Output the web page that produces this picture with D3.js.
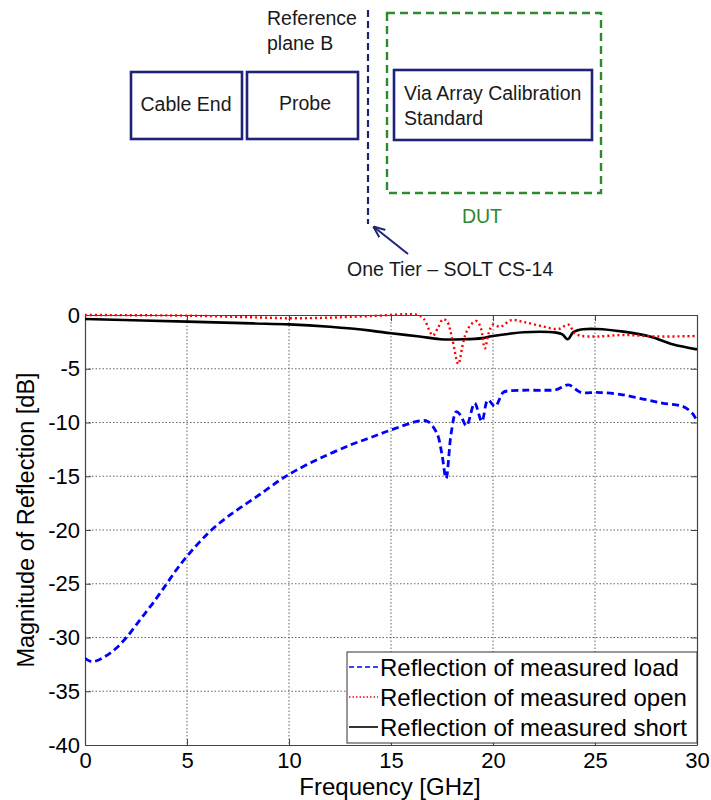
<!DOCTYPE html>
<html>
<head>
<meta charset="utf-8">
<script src="https://cdn.jsdelivr.net/npm/d3@7"></script>
<style>
  html, body { margin: 0; padding: 0; background: #fff; }
  svg { display: block; font-family: Arial, "Liberation Sans", sans-serif; }
</style>
</head>
<body>
<svg id="fig" width="711" height="800"></svg>
<script>
// Measured reflection of the calibration standards (dB vs GHz)
const loadFreq = [0, 0.35, 1.0, 1.5, 2.05, 2.7, 3.35, 3.95, 4.5, 5.0, 5.6, 6.2, 6.9, 7.6, 8.6, 9.6, 10.3, 11.5, 13, 14, 15, 16.4, 16.8, 17.25, 17.5, 17.7, 17.95, 18.2, 18.4, 18.7, 19.1, 19.45, 19.75, 20.1, 20.5, 20.8, 21.5, 22.5, 23.1, 23.7, 24.3, 25.1, 26.1, 27.2, 28.3, 29.3, 29.75, 30];
const loadDb   = [-31.94, -32.25, -31.75, -31.05, -29.95, -28.35, -26.75, -25.15, -23.65, -22.45, -21.15, -20.0, -18.9, -17.95, -16.65, -15.3, -14.5, -13.35, -12.1, -11.4, -10.7, -9.85, -9.9, -11.0, -13.0, -15.2, -11.0, -9.0, -9.3, -10.3, -8.2, -9.9, -7.9, -8.5, -7.2, -7.05, -7.0, -7.0, -6.95, -6.5, -7.2, -7.2, -7.35, -7.75, -8.2, -8.5, -9.1, -9.85];

const openFreq = [0, 5, 8, 10, 12, 14, 16.3, 16.6, 17.05, 17.3, 17.55, 17.75, 18.0, 18.3, 18.5, 18.65, 18.9, 19.2, 19.4, 19.6, 19.8, 20.0, 20.35, 20.9, 21.5, 22.3, 23.2, 23.7, 24.0, 24.3, 25.1, 26.4, 28.0, 30];
const openDb   = [0, -0.06, -0.2, -0.3, -0.25, -0.1, 0, -0.35, -1.9, -1.2, -0.4, -0.6, -2.2, -4.55, -2.9, -1.8, -0.93, -0.56, -1.2, -3.1, -1.6, -0.9, -1.1, -0.47, -0.65, -1.0, -1.3, -0.9, -1.7, -1.93, -2.0, -1.86, -2.0, -1.95];

const shortFreq = [0, 5, 8.2, 10, 12, 14, 15, 16.4, 17.4, 18.5, 19.5, 19.85, 20.8, 21.5, 23.1, 23.4, 23.66, 23.94, 24.4, 25.1, 26.4, 27.7, 28.8, 30];
const shortDb   = [-0.37, -0.62, -0.78, -0.87, -1.1, -1.45, -1.7, -2.0, -2.25, -2.26, -2.15, -2.0, -1.75, -1.6, -1.64, -1.8, -2.26, -1.6, -1.33, -1.3, -1.55, -2.0, -2.73, -3.2];

const xTicks = [0, 5, 10, 15, 20, 25, 30];
const yTicks = [0, -5, -10, -15, -20, -25, -30, -35, -40];

const seriesNames = ["Reflection of measured load", "Reflection of measured open", "Reflection of measured short"];

const svg = d3.select("#fig");

// ---------- Measurement setup sketch ----------
const navy = "#1f2378";
const green = "#2d8a2d";
const ink = "#1a1a1a";
const sk = svg.append("g").attr("font-size", 19.5).attr("fill", ink);

sk.append("rect").attr("x", 131).attr("y", 72).attr("width", 111).attr("height", 67)
  .attr("fill", "none").attr("stroke", navy).attr("stroke-width", 2.6);
sk.append("rect").attr("x", 247).attr("y", 72).attr("width", 111).attr("height", 67)
  .attr("fill", "none").attr("stroke", navy).attr("stroke-width", 2.6);
sk.append("rect").attr("x", 394).attr("y", 70).attr("width", 198).attr("height", 70)
  .attr("fill", "none").attr("stroke", navy).attr("stroke-width", 2.6);
sk.append("rect").attr("x", 387).attr("y", 13).attr("width", 214).attr("height", 180)
  .attr("fill", "none").attr("stroke", green).attr("stroke-width", 2.4)
  .attr("stroke-dasharray", "8,5");
sk.append("line").attr("x1", 368).attr("y1", 10).attr("x2", 368).attr("y2", 224)
  .attr("stroke", navy).attr("stroke-width", 2.2).attr("stroke-dasharray", "7,4");

svg.append("defs").append("marker")
  .attr("id", "tip").attr("viewBox", "0 0 10 10").attr("refX", 9).attr("refY", 5)
  .attr("markerWidth", 6).attr("markerHeight", 6).attr("orient", "auto")
  .append("path").attr("d", "M0,1 L10,5 L0,9").attr("fill", "none")
  .attr("stroke", navy).attr("stroke-width", 1.6);
sk.append("line").attr("x1", 408).attr("y1", 254).attr("x2", 374).attr("y2", 227)
  .attr("stroke", navy).attr("stroke-width", 2).attr("marker-end", "url(#tip)");

sk.append("text").attr("x", 267).attr("y", 25).text("Reference");
sk.append("text").attr("x", 267).attr("y", 50).text("plane B");
sk.append("text").attr("x", 186).attr("y", 111).attr("text-anchor", "middle").text("Cable End");
sk.append("text").attr("x", 305).attr("y", 110).attr("text-anchor", "middle").text("Probe");
sk.append("text").attr("x", 404).attr("y", 100).text("Via Array Calibration");
sk.append("text").attr("x", 404).attr("y", 125).text("Standard");
sk.append("text").attr("x", 482).attr("y", 223).attr("text-anchor", "middle")
  .attr("fill", green).text("DUT");
sk.append("text").attr("x", 347).attr("y", 276).text("One Tier \u2013 SOLT CS-14");

// ---------- Reflection plot ----------
const plot = { left: 85, right: 697, top: 315, bottom: 745 };
const x = d3.scaleLinear().domain([0, 30]).range([plot.left, plot.right]);
const y = d3.scaleLinear().domain([-40, 0]).range([plot.bottom, plot.top]);

const g = svg.append("g");

// dotted grid
g.append("g").selectAll("line").data(xTicks.filter(t => t > 0 && t < 30)).join("line")
  .attr("x1", d => x(d)).attr("x2", d => x(d))
  .attr("y1", plot.top).attr("y2", plot.bottom)
  .attr("stroke", "#666").attr("stroke-width", 1).attr("stroke-dasharray", "1.5,2");
g.append("g").selectAll("line").data(yTicks.filter(t => t < 0 && t > -40)).join("line")
  .attr("x1", plot.left).attr("x2", plot.right)
  .attr("y1", d => y(d)).attr("y2", d => y(d))
  .attr("stroke", "#666").attr("stroke-width", 1).attr("stroke-dasharray", "1.5,2");

// axes with inward ticks, mirrored on top and right
const axFont = 22;
const xAxis = g.append("g").attr("transform", `translate(0,${plot.bottom})`)
  .call(d3.axisBottom(x).tickValues(xTicks).tickSizeInner(-6).tickSizeOuter(0).tickPadding(7));
const yAxis = g.append("g").attr("transform", `translate(${plot.left},0)`)
  .call(d3.axisLeft(y).tickValues(yTicks).tickSizeInner(-6).tickSizeOuter(0).tickPadding(5)
    .tickFormat(d => d === 0 ? "0" : "-" + Math.abs(d)));
g.append("g").attr("transform", `translate(0,${plot.top})`)
  .call(d3.axisTop(x).tickValues(xTicks).tickSizeInner(-6).tickSizeOuter(0).tickFormat(""));
g.append("g").attr("transform", `translate(${plot.right},0)`)
  .call(d3.axisRight(y).tickValues(yTicks).tickSizeInner(-6).tickSizeOuter(0).tickFormat(""));

g.selectAll(".domain").attr("stroke", "#444").attr("stroke-width", 1.2);
g.selectAll(".tick line").attr("stroke", "#444");
xAxis.selectAll("text").attr("font-size", axFont).attr("fill", "#000")
  .attr("font-family", "Arial, 'Liberation Sans', sans-serif");
yAxis.selectAll("text").attr("font-size", axFont).attr("fill", "#000")
  .attr("font-family", "Arial, 'Liberation Sans', sans-serif");

// curves
const line = d3.line().x(d => x(d[0])).y(d => y(d[1])).curve(d3.curveCatmullRom.alpha(0.5));
const zip = (a, b) => a.map((v, i) => [v, b[i]]);

const styles = [
  { color: "#0000ff", width: 2.8, dash: "7,4" },
  { color: "#ff0000", width: 2.4, dash: "2,3" },
  { color: "#000000", width: 2.6, dash: null }
];
const curves = [zip(loadFreq, loadDb), zip(openFreq, openDb), zip(shortFreq, shortDb)];

svg.append("clipPath").attr("id", "plotclip").append("rect")
  .attr("x", plot.left).attr("y", plot.top - 2)
  .attr("width", plot.right - plot.left + 1).attr("height", plot.bottom - plot.top + 4);

const lines = g.append("g").attr("clip-path", "url(#plotclip)");
[2, 0, 1].forEach(i => {
  lines.append("path").datum(curves[i]).attr("d", line)
    .attr("fill", "none").attr("stroke", styles[i].color)
    .attr("stroke-width", styles[i].width)
    .attr("stroke-dasharray", styles[i].dash);
});

// axis titles
g.append("text").attr("x", (plot.left + plot.right) / 2 - 1).attr("y", 795)
  .attr("text-anchor", "middle").attr("font-size", 24).text("Frequency [GHz]");
g.append("text").attr("transform", "translate(34,520) rotate(-90)")
  .attr("text-anchor", "middle").attr("font-size", 23.5).text("Magnitude of Reflection [dB]");

// legend
const leg = g.append("g");
leg.append("rect").attr("x", 347).attr("y", 652).attr("width", 350).attr("height", 91)
  .attr("fill", "#fff").attr("stroke", "#333").attr("stroke-width", 1);
seriesNames.forEach((name, i) => {
  const cy = 667 + i * 30;
  leg.append("line").attr("x1", 349).attr("x2", 378).attr("y1", cy).attr("y2", cy)
    .attr("stroke", styles[i].color).attr("stroke-width", 1.6)
    .attr("stroke-dasharray", i === 0 ? "5,3" : (i === 1 ? "1.5,2" : null));
  leg.append("text").attr("x", 380).attr("y", cy + 8.5).attr("font-size", 24).text(name);
});
</script>
</body>
</html>
